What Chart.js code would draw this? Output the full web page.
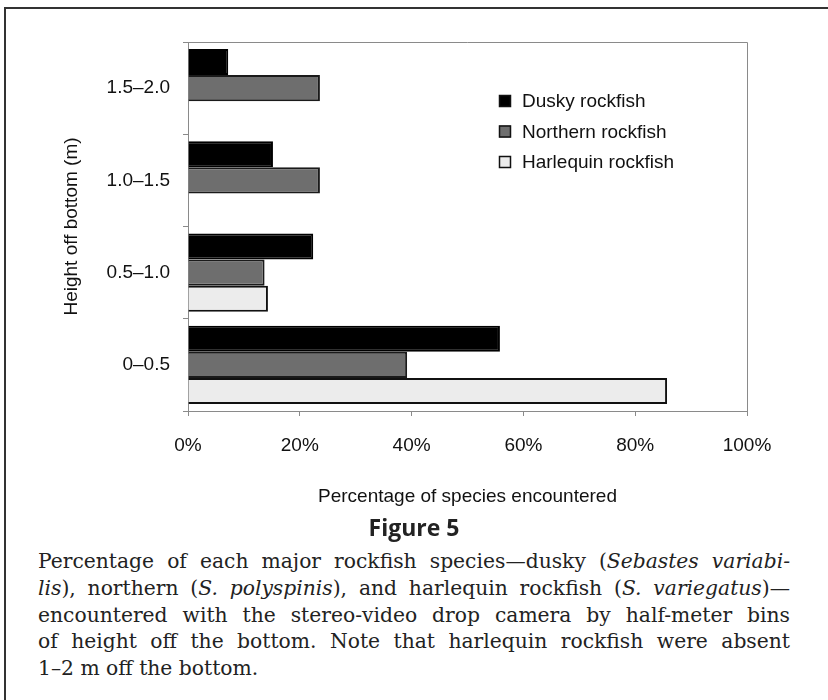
<!DOCTYPE html>
<html>
<head>
<meta charset="utf-8">
<script src="https://cdn.jsdelivr.net/npm/chart.js@4/dist/chart.umd.min.js"></script>
<style>
  html, body { margin: 0; padding: 0; background: #fff; overflow: hidden; }
  body { width: 828px; height: 700px; position: relative; }
  .frame { position: absolute; left: 4px; top: 7px; width: 900px; height: 800px; border: 2px solid #333; box-sizing: border-box; }
  .chart-box { position: absolute; left: 0; top: 0; width: 828px; height: 520px; }
  .fig-title { position: absolute; left: 0; width: 828px; top: 512px; line-height: 30px; text-align: center;
    font-family: "Open Sans", sans-serif; font-weight: 700; font-size: 23px; color: #222; }
  .caption { position: absolute; left: 38px; top: 548px; width: 752px;
    font-family: "DejaVu Serif", serif; font-size: 20.3px; line-height: 26.8px; color: #222; }
  .caption div { white-space: nowrap; text-align: justify; text-align-last: justify; }
  .caption div.last { text-align-last: left; }
</style>
</head>
<body>
<div class="frame"></div>
<div class="chart-box"><canvas id="chart" width="828" height="520"></canvas></div>
<div class="fig-title">Figure 5</div>
<div class="caption">
  <div>Percentage of each major rockfish species—dusky (<i>Sebastes variabi-</i></div>
  <div><i>lis</i>), northern (<i>S. polyspinis</i>), and harlequin rockfish (<i>S. variegatus</i>)—</div>
  <div>encountered with the stereo-video drop camera by half-meter bins</div>
  <div>of height off the bottom. Note that harlequin rockfish were absent</div>
  <div class="last">1–2 m off the bottom.</div>
</div>

<script>
const heights = ['0–0.5', '0.5–1.0', '1.0–1.5', '1.5–2.0'];
const dusky = [55.8, 22.4, 15.2, 7.2];
const northern = [39.2, 13.7, 23.6, 23.6];
const harlequin = [85.7, 14.3, null, null];
const xTicks = [0, 20, 40, 60, 80, 100];

const font = { family: '"Liberation Sans", Arial, sans-serif', size: 19 };

// frame round the plot area (top and right sides)
const plotBox = {
    id: 'plotBox',
    afterDatasetsDraw(c) {
        const a = c.chartArea, ctx = c.ctx;
        ctx.save();
        ctx.strokeStyle = '#8a8a8a';
        ctx.lineWidth = 1;
        ctx.beginPath();
        ctx.moveTo(a.left, a.top + 0.5);
        ctx.lineTo(a.right + 0.5, a.top + 0.5);
        ctx.lineTo(a.right + 0.5, a.bottom);
        ctx.stroke();
        ctx.restore();
    }
};

// legend inside the plot, top right
const innerLegend = {
    id: 'innerLegend',
    afterDraw(c) {
        const ctx = c.ctx;
        ctx.save();
        ctx.font = font.size + 'px ' + font.family;
        ctx.textBaseline = 'middle';
        c.data.datasets.forEach((ds, i) => {
            const y = 101 + i * 30.5;
            ctx.fillStyle = ds.backgroundColor;
            ctx.fillRect(499, y - 6, 12, 12);
            ctx.strokeStyle = '#111';
            ctx.lineWidth = 1.5;
            ctx.strokeRect(499.5, y - 5.5, 11, 11);
            ctx.fillStyle = '#111';
            ctx.fillText(ds.label, 522, y + 1);
        });
        ctx.restore();
    }
};

new Chart(document.querySelector('#chart'), {
    type: 'bar',
    data: {
        labels: heights,
        datasets: [
            { label: 'Dusky rockfish', data: dusky, backgroundColor: '#000000', borderColor: '#000000', borderWidth: 2 },
            { label: 'Northern rockfish', data: northern, backgroundColor: '#6e6e6e', borderColor: '#1a1a1a', borderWidth: 2 },
            { label: 'Harlequin rockfish', data: harlequin, backgroundColor: '#ececec', borderColor: '#111111', borderWidth: 2 }
        ]
    },
    options: {
        indexAxis: 'y',
        responsive: false,
        animation: false,
        categoryPercentage: 0.85,
        barPercentage: 1.0,
        layout: { padding: { top: 42, right: 81, left: 56, bottom: 8 } },
        plugins: { legend: { display: false }, tooltip: { enabled: false } },
        scales: {
            x: {
                min: 0, max: 100,
                afterFit: (axis) => { axis.height = 101; },
                afterBuildTicks: (axis) => { axis.ticks = xTicks.map(v => ({ value: v })); },
                grid: { drawOnChartArea: false, tickLength: 5, color: '#8a8a8a' },
                border: { color: '#8a8a8a', width: 1 },
                ticks: { font: font, color: '#111', padding: 18, callback: v => v + '%' },
                title: { display: true, text: 'Percentage of species encountered', font: font, color: '#111' }
            },
            y: {
                reverse: true,
                afterFit: (axis) => { axis.width = 132; },
                grid: { drawOnChartArea: false, tickLength: 5, offset: true, color: '#8a8a8a' },
                border: { color: '#8a8a8a', width: 1 },
                ticks: { font: font, color: '#111', padding: 13 },
                title: { display: true, text: 'Height off bottom (m)', font: font, color: '#111' }
            }
        }
    },
    plugins: [plotBox, innerLegend]
});
</script>
</body>
</html>
